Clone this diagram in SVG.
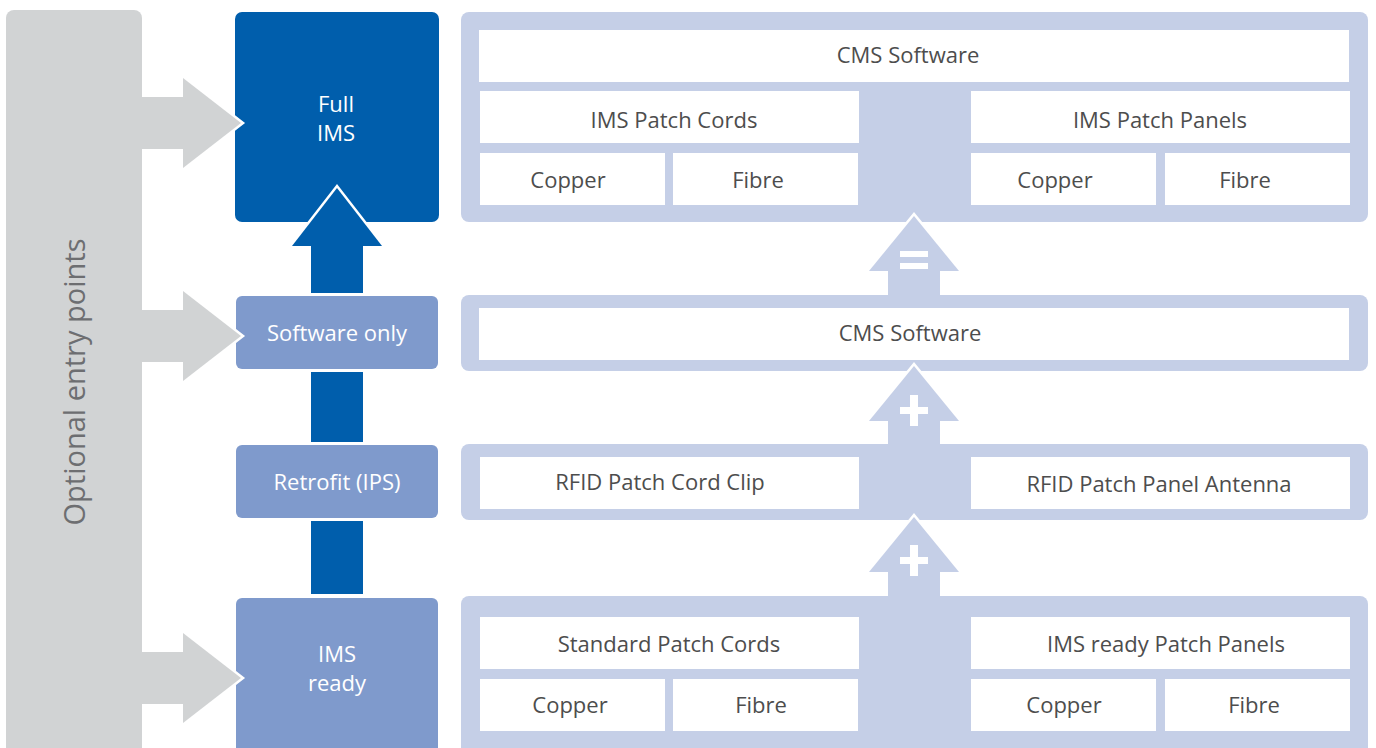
<svg xmlns="http://www.w3.org/2000/svg" width="1376" height="748" viewBox="0 0 1376 748">
<style>
.gray{fill:#d1d3d4}
.dark{fill:#005eac}
.mid{fill:#7f9acc}
.panel{fill:#c5cfe7}
.cell{fill:#ffffff}
.t{font-family:"Open Sans","Noto Sans",sans-serif;font-size:22px;fill:#4d4d4d;text-anchor:middle}
.w{font-family:"Open Sans","Noto Sans",sans-serif;font-size:22px;fill:#ffffff;text-anchor:middle}
.side{font-family:"Open Sans","Noto Sans",sans-serif;font-size:29px;fill:#6d6e71;text-anchor:middle}
.head{stroke:#ffffff;stroke-width:5;stroke-linejoin:miter;paint-order:stroke}
.sign{fill:#ffffff}
</style>
<rect width="1376" height="748" fill="#ffffff"/>

<g id="entry-bar">
  <rect class="gray" x="6" y="10" width="136" height="760" rx="8"/>
  <text class="side" transform="translate(85,382) rotate(-90)">Optional entry points</text>
</g>

<g id="full-ims">
  <rect class="dark" x="235" y="12" width="204" height="210" rx="7"/>
  <text class="w" x="336" y="112">Full</text>
  <text class="w" x="336" y="141">IMS</text>
</g>
<g id="software-only">
  <rect class="mid" x="236" y="296" width="202" height="73" rx="6"/>
  <text class="w" x="337" y="341">Software only</text>
</g>
<g id="retrofit">
  <rect class="mid" x="236" y="445" width="202" height="73" rx="6"/>
  <text class="w" x="337" y="490">Retrofit (IPS)</text>
</g>
<g id="ims-ready">
  <rect class="mid" x="236" y="598" width="202" height="170" rx="6"/>
  <text class="w" x="337" y="662">IMS</text>
  <text class="w" x="337" y="691">ready</text>
</g>

<g id="panel-full">
  <rect class="panel" x="461" y="12" width="907" height="210" rx="8"/>
  <rect class="cell" x="479" y="30" width="870" height="52"/>
  <text class="t" x="908" y="63">CMS Software</text>
  <rect class="cell" x="480" y="91" width="379" height="52"/>
  <text class="t" x="674" y="128">IMS Patch Cords</text>
  <rect class="cell" x="480" y="153" width="185" height="52"/>
  <text class="t" x="568" y="188">Copper</text>
  <rect class="cell" x="673" y="153" width="185" height="52"/>
  <text class="t" x="758" y="188">Fibre</text>
  <rect class="cell" x="971" y="91" width="379" height="52"/>
  <text class="t" x="1160" y="128">IMS Patch Panels</text>
  <rect class="cell" x="971" y="153" width="185" height="52"/>
  <text class="t" x="1055" y="188">Copper</text>
  <rect class="cell" x="1165" y="153" width="185" height="52"/>
  <text class="t" x="1245" y="188">Fibre</text>
</g>

<g id="panel-software">
  <rect class="panel" x="461" y="295" width="907" height="76" rx="8"/>
  <rect class="cell" x="479" y="308" width="870" height="52"/>
  <text class="t" x="910" y="341">CMS Software</text>
</g>

<g id="panel-retrofit">
  <rect class="panel" x="461" y="444" width="907" height="76" rx="8"/>
  <rect class="cell" x="480" y="457" width="379" height="52"/>
  <text class="t" x="660" y="490">RFID Patch Cord Clip</text>
  <rect class="cell" x="971" y="457" width="379" height="52"/>
  <text class="t" x="1159" y="492">RFID Patch Panel Antenna</text>
</g>

<g id="panel-ready">
  <rect class="panel" x="461" y="596" width="907" height="180" rx="8"/>
  <rect class="cell" x="480" y="617" width="379" height="52"/>
  <text class="t" x="669" y="652">Standard Patch Cords</text>
  <rect class="cell" x="480" y="679" width="185" height="52"/>
  <text class="t" x="570" y="713">Copper</text>
  <rect class="cell" x="673" y="679" width="185" height="52"/>
  <text class="t" x="761" y="713">Fibre</text>
  <rect class="cell" x="971" y="617" width="379" height="52"/>
  <text class="t" x="1166" y="652">IMS ready Patch Panels</text>
  <rect class="cell" x="971" y="679" width="185" height="52"/>
  <text class="t" x="1064" y="713">Copper</text>
  <rect class="cell" x="1165" y="679" width="185" height="52"/>
  <text class="t" x="1254" y="713">Fibre</text>
</g>

<g id="connectors">
  <!-- gray entry arrows -->
  <polygon class="gray head" points="183,78 241,123 183,168"/>
  <rect class="gray" x="142" y="97" width="44" height="52"/>
  <polygon class="gray head" points="183,291 241,336 183,381"/>
  <rect class="gray" x="142" y="310" width="44" height="52"/>
  <polygon class="gray head" points="183,633 241,678 183,723"/>
  <rect class="gray" x="142" y="652" width="44" height="52"/>

  <!-- blue upgrade path -->
  <polygon class="dark head" points="292,246 337,188 382,246"/>
  <rect class="dark" x="311" y="243" width="52" height="50"/>
  <rect class="dark" x="311" y="372" width="52" height="70"/>
  <rect class="dark" x="311" y="521" width="52" height="73"/>

  <!-- light arrows -->
  <polygon class="panel head" points="869,271 914,216 959,271"/>
  <rect class="panel" x="888" y="268" width="52" height="29"/>
  <rect class="sign" x="900" y="251" width="28" height="6"/>
  <rect class="sign" x="900" y="263" width="28" height="6"/>

  <polygon class="panel head" points="869,421 914,366 959,421"/>
  <rect class="panel" x="888" y="418" width="52" height="28"/>
  <rect class="sign" x="910" y="395" width="8" height="31"/>
  <rect class="sign" x="900" y="407" width="28" height="7"/>

  <polygon class="panel head" points="869,572 914,517 959,572"/>
  <rect class="panel" x="888" y="569" width="52" height="29"/>
  <rect class="sign" x="910" y="545" width="8" height="31"/>
  <rect class="sign" x="900" y="557" width="28" height="7"/>
</g>
</svg>
